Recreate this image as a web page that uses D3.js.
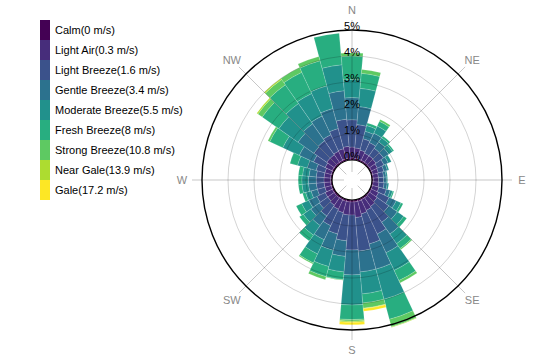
<!DOCTYPE html>
<html>
<head>
<meta charset="utf-8">
<script src="https://cdn.jsdelivr.net/npm/d3@7"></script>
<style>
  html, body { margin: 0; padding: 0; background: #fff; }
  svg { display: block; font-family: "Liberation Sans", Arial, sans-serif; }
</style>
</head>
<body>
<svg id="chart" width="544" height="360"></svg>
<script>
// ---- data ----
const directions = [0,10,20,30,40,50,60,70,80,90,100,110,120,130,140,150,160,170,180,190,200,210,220,230,240,250,260,270,280,290,300,310,320,330,340,350];
const speedNames = ["Calm(0 m/s)","Light Air(0.3 m/s)","Light Breeze(1.6 m/s)","Gentle Breeze(3.4 m/s)","Moderate Breeze(5.5 m/s)","Fresh Breeze(8 m/s)","Strong Breeze(10.8 m/s)","Near Gale(13.9 m/s)","Gale(17.2 m/s)"];
const calm      = [0.08,0.07,0.07,0.07,0.07,0.06,0.06,0.06,0.05,0.05,0.05,0.05,0.06,0.06,0.07,0.07,0.08,0.08,0.08,0.08,0.08,0.07,0.07,0.07,0.07,0.06,0.06,0.06,0.06,0.06,0.07,0.07,0.07,0.07,0.08,0.08];
const lightAir  = [0.42,0.40,0.35,0.30,0.30,0.30,0.25,0.22,0.20,0.20,0.22,0.25,0.30,0.35,0.40,0.45,0.50,0.60,0.50,0.50,0.45,0.40,0.35,0.30,0.30,0.25,0.25,0.25,0.25,0.25,0.30,0.35,0.35,0.38,0.40,0.45];
const lightBrz  = [1.05,0.90,0.45,0.45,0.35,0.35,0.28,0.22,0.20,0.20,0.20,0.30,0.45,0.55,0.75,1.00,1.20,1.30,1.34,1.00,0.85,0.70,0.50,0.40,0.35,0.30,0.30,0.30,0.30,0.35,0.50,0.60,0.65,0.70,0.80,1.05];
const gentleBrz = [0.85,0.70,0.30,0.40,0.30,0.25,0.18,0.14,0.10,0.10,0.12,0.15,0.30,0.40,0.55,0.80,1.00,0.80,0.96,0.60,0.65,0.60,0.45,0.40,0.35,0.25,0.30,0.30,0.28,0.35,0.60,0.75,0.80,0.80,0.80,1.10];
const modBrz    = [0.70,0.70,0.23,0.30,0.20,0.18,0.13,0.06,0.05,0.05,0.06,0.10,0.20,0.30,0.45,0.75,1.20,0.85,1.16,0.60,0.65,0.60,0.45,0.35,0.30,0.22,0.25,0.25,0.25,0.39,0.70,0.90,0.95,0.95,0.90,1.00];
const freshBrz  = [0.90,0.58,0.10,0.20,0.08,0.06,0.00,0.00,0.00,0.00,0.00,0.05,0.09,0.14,0.23,0.43,0.80,0.35,0.56,0.30,0.40,0.38,0.28,0.18,0.23,0.12,0.14,0.14,0.16,0.30,0.55,0.78,0.88,0.90,1.00,1.22];
const strongBrz = [0.12,0.15,0.00,0.08,0.00,0.00,0.00,0.00,0.00,0.00,0.00,0.00,0.00,0.00,0.05,0.10,0.30,0.20,0.06,0.02,0.12,0.05,0.00,0.00,0.00,0.00,0.00,0.00,0.00,0.00,0.08,0.20,0.25,0.20,0.17,0.00];
const nearGale  = [0,0,0,0,0,0,0,0,0,0,0,0,0,0,0,0,0.02,0.02,0.04,0,0,0,0,0,0,0,0,0,0,0,0,0.05,0.05,0,0,0];
const gale      = [0,0,0,0,0,0,0,0,0,0,0,0,0,0,0,0,0,0.10,0.10,0,0,0,0,0,0,0,0,0,0,0,0,0,0,0,0,0];
const radialTicks = [0,1,2,3,4,5];
const compass = [["N",0],["NE",45],["E",90],["SE",135],["S",180],["SW",225],["W",270],["NW",315]];

// ---- build table ----
const series = [calm, lightAir, lightBrz, gentleBrz, modBrz, freshBrz, strongBrz, nearGale, gale];
const keys = speedNames;
const table = directions.map((d, i) => {
  const row = { dir: d };
  keys.forEach((k, j) => row[k] = series[j][i]);
  return row;
});
const stacked = d3.stack().keys(keys)(table);

// ---- layout ----
const svg = d3.select("#chart");
const cx = 352, cy = 180;
const innerR = 20, outerR = 150;
const r = d3.scaleLinear().domain([0, 5]).range([innerR, outerR]);
const color = d3.scaleOrdinal().domain(keys).range(keys.map((k, i) => d3.interpolateViridis(i / (keys.length - 1))));
const toRad = deg => deg * Math.PI / 180;
const half = 5;

const g = svg.append("g").attr("transform", `translate(${cx},${cy})`);

const arc = d3.arc()
  .innerRadius(d => r(d[0]))
  .outerRadius(d => r(d[1]))
  .startAngle(d => toRad(d.data.dir - half))
  .endAngle(d => toRad(d.data.dir + half));

g.append("g").selectAll("g")
  .data(stacked)
  .join("g")
    .attr("fill", d => color(d.key))
  .selectAll("path")
  .data(d => d.filter(v => v[1] - v[0] > 0))
  .join("path")
    .attr("d", arc)
    .attr("stroke", "#fff")
    .attr("stroke-width", 0.5)
    .attr("stroke-opacity", 0.3);

// hole
g.append("circle").attr("r", innerR).attr("fill", "#fff").attr("stroke", "#000").attr("stroke-width", 1.2);

// grid circles
g.append("g").selectAll("circle")
  .data(radialTicks.filter(t => t > 0 && t < 5))
  .join("circle")
    .attr("r", d => r(d))
    .attr("fill", "none")
    .attr("stroke", "#000")
    .attr("stroke-opacity", 0.22)
    .attr("stroke-width", 0.8);

// spokes
g.append("g").selectAll("line")
  .data(compass)
  .join("line")
    .attr("x1", d => 8 * Math.sin(toRad(d[1])))
    .attr("y1", d => -8 * Math.cos(toRad(d[1])))
    .attr("x2", d => 160 * Math.sin(toRad(d[1])))
    .attr("y2", d => -160 * Math.cos(toRad(d[1])))
    .attr("stroke", "#000")
    .attr("stroke-opacity", 0.28)
    .attr("stroke-width", 0.8);

// outer circle
g.append("circle").attr("r", r(5)).attr("fill", "none").attr("stroke", "#000").attr("stroke-width", 1.4);

// compass labels
g.append("g").selectAll("text")
  .data(compass)
  .join("text")
    .attr("x", d => 170 * Math.sin(toRad(d[1])))
    .attr("y", d => -170 * Math.cos(toRad(d[1])))
    .attr("text-anchor", "middle")
    .attr("dominant-baseline", "central")
    .attr("fill", "#888")
    .attr("font-size", 11)
    .text(d => d[0]);

// radial tick labels
g.append("g").selectAll("text")
  .data(radialTicks)
  .join("text")
    .attr("x", 0)
    .attr("y", d => -r(d) - 0.5)
    .attr("text-anchor", "middle")
    .attr("fill", "#000")
    .attr("font-size", 11)
    .text(d => d + "%");

// legend
const legend = svg.append("g").attr("transform", "translate(40,20)");
const item = legend.selectAll("g").data(keys).join("g")
  .attr("transform", (d, i) => `translate(0,${i * 20})`);
item.append("rect").attr("width", 10).attr("height", 20).attr("fill", d => color(d));
item.append("text")
  .attr("x", 15).attr("y", 10)
  .attr("dominant-baseline", "central")
  .attr("font-size", 11)
  .attr("fill", "#000")
  .text(d => d);
</script>
</body>
</html>
